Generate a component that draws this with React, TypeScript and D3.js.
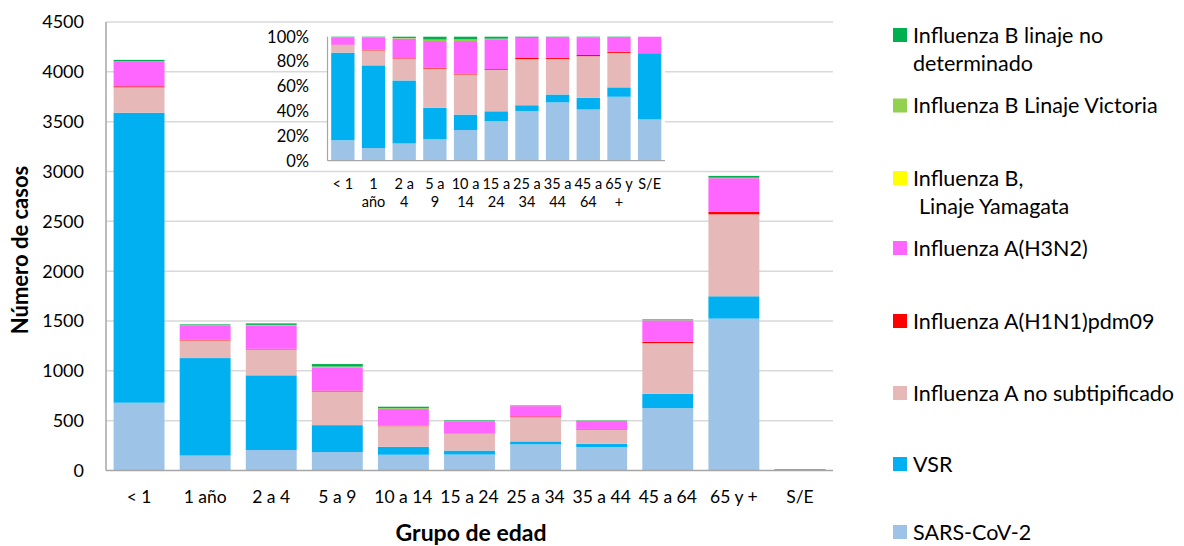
import React from "react";
import * as d3 from "d3";

const categories = ["< 1", "1 año", "2 a 4", "5 a 9", "10 a 14", "15 a 24", "25 a 34", "35 a 44", "45 a 64", "65 y +", "S/E"];
const insetLabels = [["< 1", ""], ["1", "año"], ["2 a", "4"], ["5 a", "9"], ["10 a", "14"], ["15 a", "24"], ["25 a", "34"], ["35 a", "44"], ["45 a", "64"], ["65 y", "+"], ["S/E", ""]];

const sarsCoV2 = [680, 150, 205, 185, 158, 160, 262, 236, 626, 1524, 5];
const vsr = [2910, 978, 750, 270, 80, 40, 30, 32, 144, 224, 8];
const fluANoSub = [255, 177, 260, 338, 207, 168, 243, 144, 508, 822, 0];
const fluAH1N1 = [10, 8, 6, 8, 3, 3, 8, 5, 14, 27, 0];
const fluAH3N2 = [245, 145, 232, 230, 170, 118, 103, 80, 214, 336, 2];
const fluBYamagata = [0, 0, 0, 0, 0, 0, 0, 0, 0, 0, 0];
const fluBVictoria = [5, 3, 8, 12, 8, 5, 2, 2, 3, 5, 0];
const fluBNoDet = [15, 6, 15, 25, 14, 8, 5, 3, 7, 18, 0];

const yTicks = [0, 500, 1000, 1500, 2000, 2500, 3000, 3500, 4000, 4500];
const insetTicks = [0, 0.2, 0.4, 0.6, 0.8, 1];

const seriesKeys = ["sars", "vsr", "anosub", "h1n1", "h3n2", "yam", "vic", "bnd"];
const seriesValues = [sarsCoV2, vsr, fluANoSub, fluAH1N1, fluAH3N2, fluBYamagata, fluBVictoria, fluBNoDet];
const seriesColors = ["#9DC3E6", "#00B0F0", "#E6B9B8", "#FF0000", "#FF66FF", "#FFFF00", "#92D050", "#00B050"];

const legendItems = [
  { key: "bnd", lines: ["Influenza B linaje no", "determinado"], cy: 35, indent: 0 },
  { key: "vic", lines: ["Influenza B Linaje Victoria"], cy: 105.5, indent: 0 },
  { key: "yam", lines: ["Influenza B,", "Linaje Yamagata"], cy: 178, indent: 6 },
  { key: "h3n2", lines: ["Influenza A(H3N2)"], cy: 248, indent: 0 },
  { key: "h1n1", lines: ["Influenza A(H1N1)pdm09"], cy: 321, indent: 0 },
  { key: "anosub", lines: ["Influenza A no subtipificado"], cy: 393, indent: 0 },
  { key: "vsr", lines: ["VSR"], cy: 464, indent: 0 },
  { key: "sars", lines: ["SARS-CoV-2"], cy: 532, indent: 0 },
];

const FONT = "Lato, 'Open Sans', sans-serif";

export default function App() {
  const rows = categories.map((c, i) => {
    const r: any = { cat: c };
    seriesKeys.forEach((k, j) => (r[k] = seriesValues[j][i]));
    return r;
  });
  const stacked = d3.stack().keys(seriesKeys)(rows);
  const stackedPct = d3.stack().keys(seriesKeys).offset(d3.stackOffsetExpand)(rows);
  const color = d3.scaleOrdinal<string, string>().domain(seriesKeys).range(seriesColors);

  const x = d3.scaleBand().domain(categories).range([106, 833]).paddingInner(0.23).paddingOuter(0.115);
  const y = d3.scaleLinear().domain([0, 4500]).range([470.5, 22]);

  const xi = d3.scaleBand().domain(categories).range([327.5, 665]).paddingInner(0.24).paddingOuter(0.12);
  const yi = d3.scaleLinear().domain([0, 1]).range([160.7, 36.7]);

  return (
    <svg width={1184} height={546} style={{ position: "absolute", left: 0, top: 0, fontFamily: FONT }}>
      <rect width={1184} height={546} fill="#fff" />
      {yTicks.filter((t) => t > 0).map((t) => (
        <line key={t} x1={106} x2={833} y1={y(t)} y2={y(t)} stroke="#d9d9d9" strokeWidth={1.5} />
      ))}
      {yTicks.map((t) => (
        <text key={t} x={84} y={y(t)} dy="0.36em" textAnchor="end" fontSize={18} fill="#000">{t}</text>
      ))}
      {stacked.map((s) => (
        <g key={s.key} fill={color(s.key)}>
          {s.map((d, i) => (
            <rect key={i} x={x(categories[i])} width={x.bandwidth()} y={y(d[1])} height={Math.max(0, y(d[0]) - y(d[1]))} />
          ))}
        </g>
      ))}
      <line x1={106} x2={106} y1={22} y2={470.5} stroke="#a6a6a6" strokeWidth={1.5} />
      <line x1={106} x2={833} y1={470.5} y2={470.5} stroke="#a6a6a6" strokeWidth={1.5} />
      {categories.map((c) => (
        <text key={c} x={(x(c) as number) + x.bandwidth() / 2} y={503} textAnchor="middle" fontSize={17.5} fill="#000">{c}</text>
      ))}
      <text x={471} y={541} textAnchor="middle" fontSize={23} fontWeight="bold" fill="#000">Grupo de edad</text>
      <text transform="translate(28,250) rotate(-90)" textAnchor="middle" fontSize={22} fontWeight="bold" fill="#000">Número de casos</text>

      {/* inset */}
      <rect x={327.5} y={36.7} width={665 - 327.5} height={124} fill="#fff" />
      {stackedPct.map((s) => (
        <g key={s.key} fill={color(s.key)}>
          {s.map((d, i) => (
            <rect key={i} x={xi(categories[i])} width={xi.bandwidth()} y={yi(d[1])} height={Math.max(0, yi(d[0]) - yi(d[1]))} />
          ))}
        </g>
      ))}
      <line x1={327.5} x2={327.5} y1={36.7} y2={160.7} stroke="#a6a6a6" strokeWidth={1.2} />
      <line x1={327.5} x2={665} y1={160.7} y2={160.7} stroke="#a6a6a6" strokeWidth={1.2} />
      {insetTicks.map((t) => (
        <text key={t} x={309} y={yi(t)} dy="0.36em" textAnchor="end" fontSize={16.5} fill="#000">{d3.format(".0%")(t)}</text>
      ))}
      {categories.map((c, i) => (
        <text key={c} textAnchor="middle" fontSize={14.5} fill="#000">
          <tspan x={(xi(c) as number) + xi.bandwidth() / 2} y={189}>{insetLabels[i][0]}</tspan>
          <tspan x={(xi(c) as number) + xi.bandwidth() / 2} y={207}>{insetLabels[i][1]}</tspan>
        </text>
      ))}

      {legendItems.map((it) => (
        <g key={it.key}>
          <rect x={893} y={it.cy - 7} width={14} height={14} fill={color(it.key)} />
          {it.lines.map((ln, j) => (
            <text key={j} x={913 + (j > 0 ? it.indent : 0)} y={it.cy + j * 28} dy="0.36em" fontSize={21.5} fill="#000">{ln}</text>
          ))}
        </g>
      ))}
    </svg>
  );
}
